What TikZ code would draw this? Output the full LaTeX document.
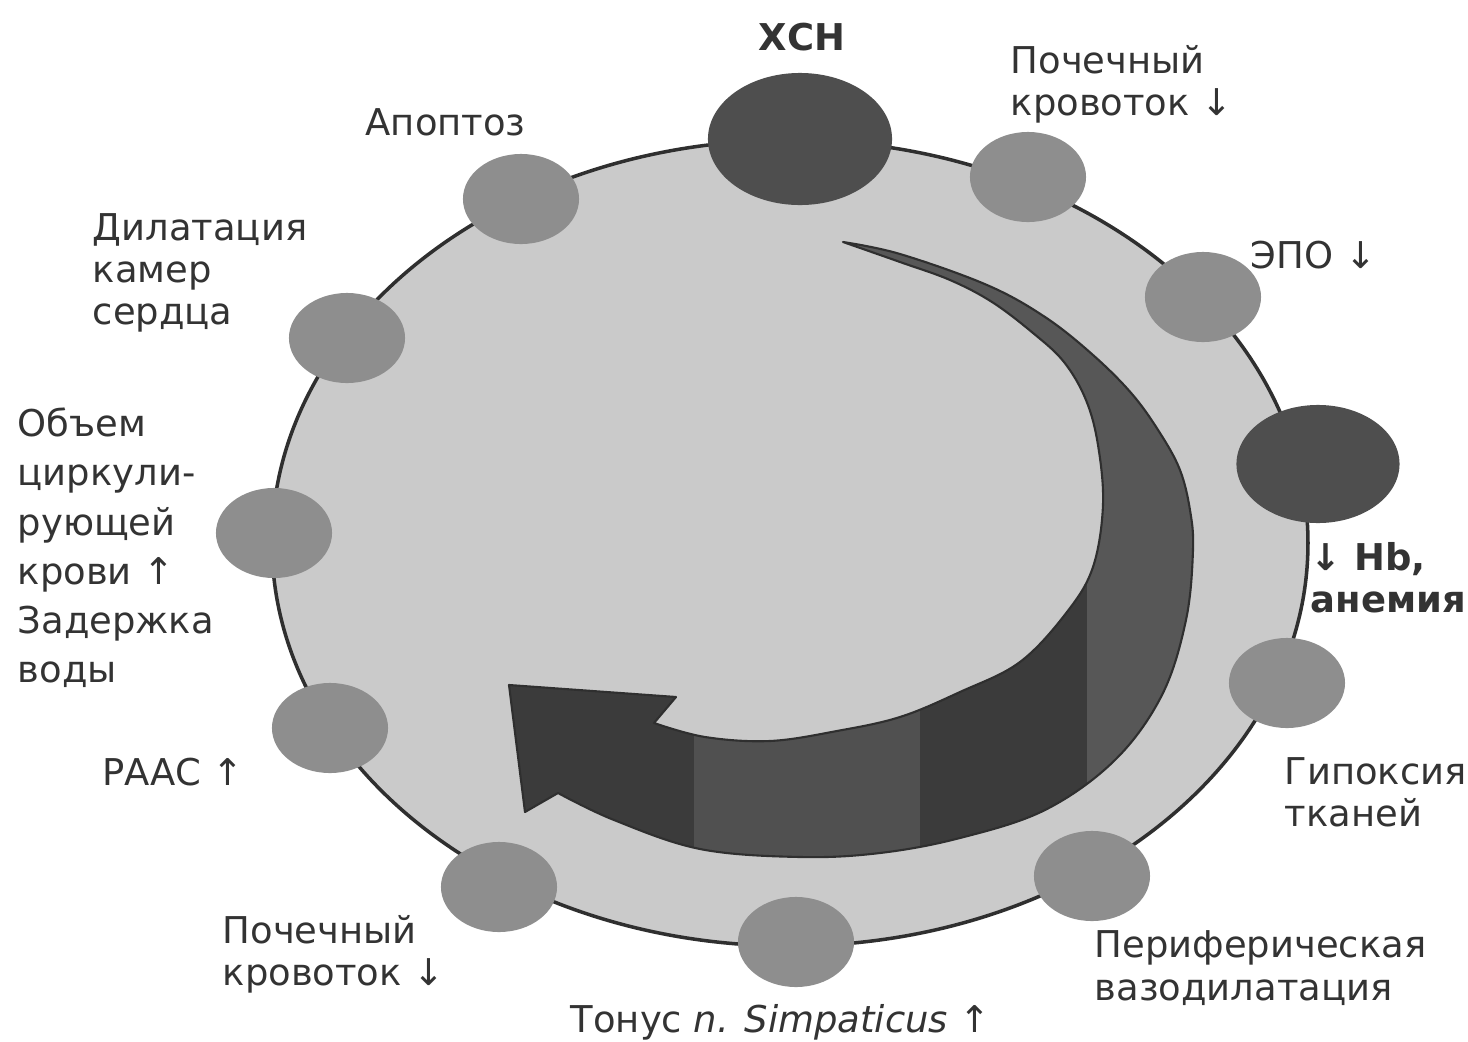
\documentclass[tikz,border=0pt]{standalone}
\usepackage{fontspec}
\setmainfont{DejaVu Sans}
\usepackage{tikz}
\usetikzlibrary{shapes.geometric}

\definecolor{ringgray}{HTML}{CACACA}
\definecolor{edgegray}{HTML}{2F2F2F}
\definecolor{dotgray}{HTML}{8E8E8E}
\definecolor{keygray}{HTML}{4E4E4E}
\definecolor{inkgray}{HTML}{333333}
\definecolor{arrowlight}{HTML}{575757}
\definecolor{arrowmid}{HTML}{505050}
\definecolor{arrowdark}{HTML}{3B3B3B}

% outline of the crescent arrow (pixel units)
\newcommand{\crescentpath}{%
  plot[smooth, tension=0.6] coordinates {(843,242) (900,254) (987,285) (1045,317) (1093,355) (1132,394)
    (1160,433) (1180,470) (1190,510) (1193,550) (1186,620) (1162,695) (1115,760) (1045,810) (960,838)
    (880,853) (800,857) (700,849) (614,820) (558,793)}
  -- (525,812) -- (509,685) -- (676,697)
  -- plot[smooth, tension=0.6] coordinates {(654,723) (705,737) (770,741) (837,731) (900,717) (960,692)
    (1020,662) (1067,612) (1093,567) (1103,505) (1098,445) (1086,400) (1064,362) (1033,333) (992,302)
    (950,280) (900,262) (843,242)}
  -- cycle}

\tikzset{
  bigring/.style={fill=ringgray, draw=edgegray, line width=1pt},
  factor/.style={ellipse, fill=dotgray, inner sep=0pt, minimum width=1.16cm, minimum height=0.9cm},
  keyfactor/.style={factor, fill=keygray},
  lbl/.style={font=\fontsize{10.5}{12}\selectfont, text=inkgray, align=left, inner sep=0pt, anchor=west}
}

\begin{document}
\begin{tikzpicture}[x=0.01cm, y=-0.01cm]
  \useasboundingbox (0,0) rectangle (1468,1042);

  % Ring
  \draw[bigring] (790,543) ellipse [x radius=518, y radius=403];

  % Crescent arrow with shaded bands
  \fill[arrowlight] \crescentpath;
  \begin{scope}
    \clip \crescentpath;
    \fill[arrowdark] (480,480) rectangle (694,900);
    \fill[arrowmid] (694,480) rectangle (920,900);
    \fill[arrowdark] (920,480) rectangle (1087,900);
  \end{scope}
  \draw[edgegray, line width=0.6pt, line join=round] \crescentpath;

  % Factors on the ring
  \node[keyfactor, minimum width=1.84cm, minimum height=1.32cm] (hsn) at (800,139) {};
  \node[factor] (kidtop) at (1028,177) {};
  \node[factor] (epo) at (1203,297) {};
  \node[keyfactor, minimum width=1.63cm, minimum height=1.18cm] (hb) at (1318,464) {};
  \node[factor] (hypox) at (1287,683) {};
  \node[factor] (vaso) at (1092,876) {};
  \node[factor] (tonus) at (796,942) {};
  \node[factor] (kidbot) at (499,887) {};
  \node[factor] (raas) at (330,728) {};
  \node[factor] (volume) at (274,533) {};
  \node[factor] (dilat) at (347,338) {};
  \node[factor] (apop) at (521,199) {};

  % Labels
  \node[lbl, anchor=base] (hsn-l) at (802,50) {\bfseries ХСН};
  \node[lbl] (apop-l) at (365,122) {Апоптоз};
  \node[lbl] (kidtop-l) at (1010,84) {Почечный\\кровоток ↓};
  \node[lbl] (epo-l) at (1250,255) {ЭПО ↓};
  \node[lbl, font=\fontsize{10.5}{12}\selectfont\bfseries] (hb-l) at (1310,578) {↓ Hb,\\анемия};
  \node[lbl] (hypox-l) at (1284,792) {Гипоксия\\тканей};
  \node[lbl] (vaso-l) at (1094,968) {Периферическая\\вазодилатация};
  \node[lbl] (tonus-l) at (570,1022) {Тонус \textit{n. Simpaticus} ↑};
  \node[lbl] (kidbot-l) at (222,954) {Почечный\\кровоток ↓};
  \node[lbl] (raas-l) at (102,772) {РААС ↑};
  \node[lbl, font=\fontsize{10.5}{14}\selectfont] (volume-l) at (17,548) {Объем\\циркули-\\рующей\\крови ↑\\Задержка\\воды};
  \node[lbl] (dilat-l) at (92,273) {Дилатация\\камер\\сердца};
\end{tikzpicture}
\end{document}
